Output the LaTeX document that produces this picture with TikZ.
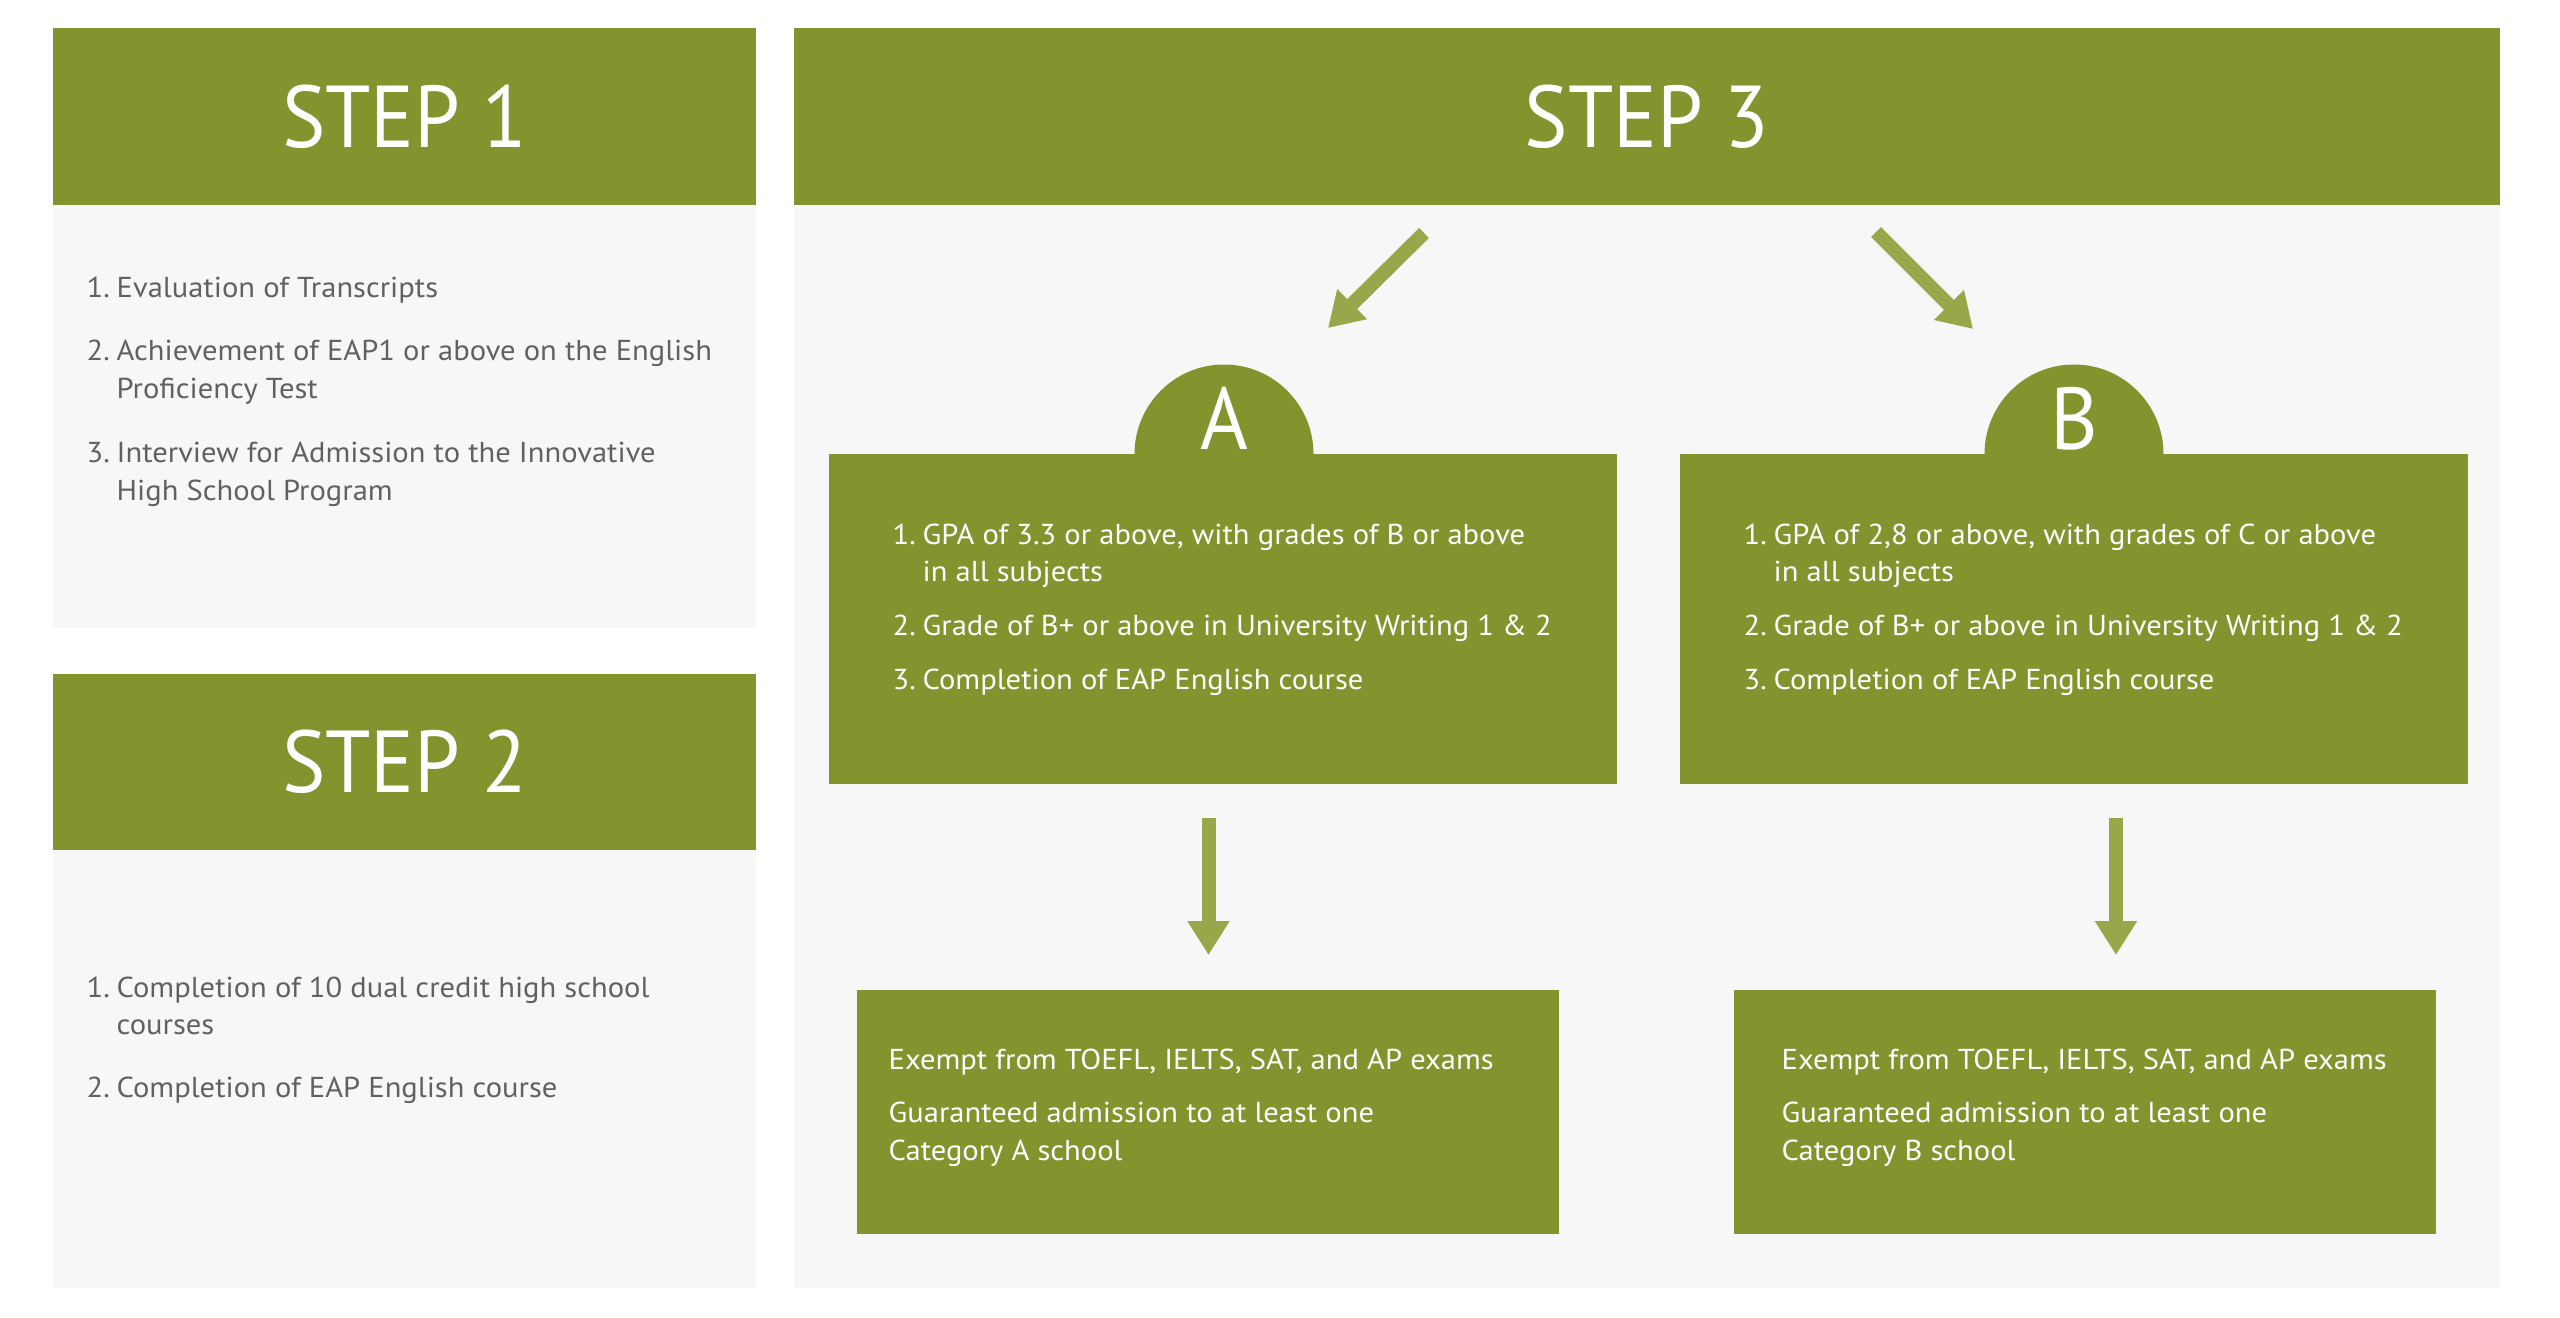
\documentclass[tikz,border=0pt]{standalone}
\usepackage{fontspec}
\setmainfont{PT Sans}[FakeStretch=1.06]
\newfontfamily\titlefont{PT Sans}[FakeStretch=0.93]
\usepackage{tikz}
\usetikzlibrary{arrows.meta}

\definecolor{leafgreen}{HTML}{82942E}
\definecolor{arrowgreen}{HTML}{96A84A}
\definecolor{panelgray}{HTML}{F7F7F7}
\definecolor{textgray}{HTML}{616163}

\newcommand\bodyfont{\fontsize{8.2}{10.8}\selectfont}
\newcommand\num[1]{\makebox[3mm][l]{#1}}

\begin{document}
\begin{tikzpicture}[x=0.1mm,y=-0.1mm,
    title/.style={text=white,inner sep=0pt,font=\titlefont\fontsize{25}{30}\selectfont},
    list/.style={anchor=base west,inner sep=0pt,font=\bodyfont},
    bigarrow/.style={arrowgreen,line width=1.4mm,-{Triangle[width=4mm,length=3.4mm]}}]
    % page and grey panels
    \fill[white] (0,0) rectangle (2560,1318);
    \fill[panelgray] (53,205) rectangle (756,628);
    \fill[panelgray] (53,850) rectangle (756,1288);
    \fill[panelgray] (794,205) rectangle (2500,1288);
    % green headers
    \foreach \ya/\yb in {28/205, 674/850}
    \fill[leafgreen] (53,\ya) rectangle (756,\yb);
    \fill[leafgreen] (794,28) rectangle (2500,205);
    \node (step1) [title] at (404.5,116.5) {STEP 1};
    \node (step2) [title] at (404.5,762) {STEP 2};
    \node (step3) [title] at (1647,116.5) {STEP 3};

    \node (list1) [list,text=textgray] at (86,297) {\begin{tabular}[t]{@{}l@{}l@{}}
        \num{1.}&Evaluation of Transcripts\\[2.6mm]
        \num{2.}&Achievement of EAP1 or above on the English\\
        &Proficiency Test\\[2.6mm]
        \num{3.}&Interview for Admission to the Innovative\\
        &High School Program
    \end{tabular}};
    \node (list2) [list,text=textgray] at (86,997) {\begin{tabular}[t]{@{}l@{}l@{}}
        \num{1.}&Completion of 10 dual credit high school\\
        &courses\\[2.5mm]
        \num{2.}&Completion of EAP English course
    \end{tabular}};

    %the two branches of step 3
    \coordinate (tailA) at (1424,233); \coordinate (headA) at (1328,328);
    \coordinate (tailB) at (1876,232); \coordinate (headB) at (1973,329);
    \draw[bigarrow] (tailA) -- (headA);
    \draw[bigarrow] (tailB) -- (headB);
    \foreach \lbl/\bx/\cx/\ax/\rx/\tx/\gpa/\grd in
    {A/829/1224/1208.5/857/888/3.3/B, B/1680/2074/2116/1734/1781/{2,8}/C}{
        \fill[leafgreen] (\bx,454) rectangle ++(788,330);
        \fill[leafgreen] (\cx-89.5,454) arc (180:360:89.5) -- cycle;
        \node (tab\lbl) [title,anchor=base] at (\cx,449) {\lbl};
        \node (crit\lbl) [list,text=white] at (\bx+63,544) {\begin{tabular}[t]{@{}l@{}l@{}}
            \num{1.}&GPA of \gpa{} or above, with grades of \grd{} or above\\
            &in all subjects\\[1.6mm]
            \num{2.}&Grade of B+ or above in University Writing 1 \& 2\\[1.6mm]
            \num{3.}&Completion of EAP English course
        \end{tabular}};
        \coordinate (top\lbl) at (\ax,818);
        \coordinate (tip\lbl) at (\ax,955);
        \draw[bigarrow] (top\lbl) -- (tip\lbl);
        \fill[leafgreen] (\rx,990) rectangle ++(702,244);
        \node (gain\lbl) [list,text=white] at (\tx,1069) {\begin{tabular}[t]{@{}l@{}}
            Exempt from TOEFL, IELTS, SAT, and AP exams\\[1.6mm]
            Guaranteed admission to at least one\\
            Category \lbl{} school
        \end{tabular}};
    }
\end{tikzpicture}
\end{document}
